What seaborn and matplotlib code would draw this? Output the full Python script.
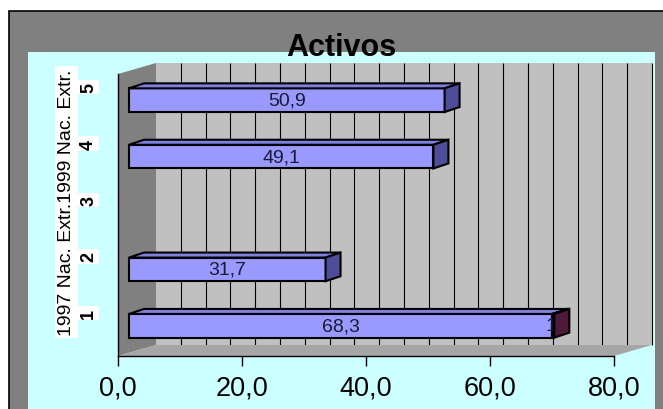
import numpy as np
import pandas as pd
import seaborn as sns
import matplotlib
matplotlib.use('Agg')
import matplotlib.pyplot as plt
from matplotlib.patches import Rectangle, Polygon
from matplotlib.transforms import ScaledTranslation

# datos
posiciones = [1, 2, 3, 4, 5]
etiquetas_y = ["1", "2", "3", "4", "5"]
valores = [68.3, 31.7, np.nan, 49.1, 50.9]
resto = [0.3, np.nan, np.nan, np.nan, np.nan]
ticks_x = [0, 20, 40, 60, 80]
etiquetas_x = ["0,0", "20,0", "40,0", "60,0", "80,0"]
titulo = "Activos"
eje_y = "1997 Nac. Extr.1999 Nac. Extr."

sns.set_theme(style="white")
plt.rcParams['font.family'] = ['Liberation Sans', 'DejaVu Sans']

W, H = 663, 410
fig = plt.figure(figsize=(W / 100, H / 100), dpi=100)
fig.patch.set_facecolor('white')


def fx(x):
    return x / W


def fy(y):
    return 1 - y / H


# marco gris y area cyan
fig.add_artist(Rectangle((fx(9), -0.1), 1, fy(12) + 0.1, transform=fig.transFigure,
                         facecolor='#808080', edgecolor='black', lw=1.2, zorder=-10))
fig.add_artist(Rectangle((fx(28), -0.1), fx(655) - fx(28), fy(53) + 0.1, transform=fig.transFigure,
                         facecolor='#CCFFFF', edgecolor='none', zorder=-9))

ax = fig.add_axes([fx(118), fy(357), fx(614) - fx(118), fy(75) - fy(357)])
ax.set_facecolor('none')

df = pd.DataFrame({'pos': posiciones, 'valor': valores}).dropna()
sns.barplot(data=df, x='valor', y='pos', orient='h', native_scale=True, width=0.42,
            color='#9999FF', saturation=1, edgecolor='black', linewidth=1.5,
            errorbar=None, ax=ax, zorder=2)
barras = list(ax.patches)

df2 = pd.DataFrame({'pos': posiciones, 'base': valores, 'resto': resto}).dropna()
seg = ax.barh(df2['pos'], df2['resto'], height=0.42, left=df2['base'], color='#993366',
              edgecolor='black', linewidth=1.5, zorder=2)

ax.set_xlim(0, 80)
ax.set_ylim(0.5, 5.5)
ax.set_xlabel('')

# pixeles por unidad
px_x = (614 - 118) / 80
px_y = (357 - 75) / 5
DX, DY = 38 / px_x, 11 / px_y
ddx, ddy = 15 / px_x, 5 / px_y
y0, y1 = 0.5, 5.5

# paredes 3D
ax.add_patch(Rectangle((DX, y0 + DY), 80, 5, facecolor='#C0C0C0', edgecolor='none',
                       zorder=0.1, clip_on=False))
ax.vlines(np.arange(4, 81, 4) + DX, y0 + DY, y1 + DY, colors='black', lw=0.8,
          zorder=0.2, clip_on=False)
ax.add_patch(Polygon([(0, y0), (DX, y0 + DY), (DX, y1 + DY), (0, y1)],
                     facecolor='#808080', edgecolor='none', zorder=0.3, clip_on=False))
ax.add_patch(Polygon([(0, y0), (80, y0), (80 + DX, y0 + DY), (DX, y0 + DY)],
                     facecolor='#A6A6A6', edgecolor='none', zorder=0.3, clip_on=False))

desplaza = ax.transData + ScaledTranslation(11 / 100, 2 / 100, fig.dpi_scale_trans)


def caras(p, c_top, c_side, z):
    bx0 = p.get_x()
    bx1 = bx0 + p.get_width()
    by0 = p.get_y()
    by1 = by0 + p.get_height()
    ax.add_patch(Polygon([(bx0, by1), (bx1, by1), (bx1 + ddx, by1 + ddy), (bx0 + ddx, by1 + ddy)],
                         facecolor=c_top, edgecolor='black', lw=1.5, transform=desplaza,
                         zorder=z, clip_on=False))
    ax.add_patch(Polygon([(bx1, by0), (bx1 + ddx, by0 + ddy), (bx1 + ddx, by1 + ddy), (bx1, by1)],
                         facecolor=c_side, edgecolor='black', lw=1.5, transform=desplaza,
                         zorder=z, clip_on=False))


for p, v in zip(barras, df['valor']):
    p.set_transform(desplaza)
    p.set_clip_on(False)
    caras(p, '#8080E0', '#4D4D99', 2)
    ax.text(p.get_x() + p.get_width() / 2, p.get_y() + p.get_height() / 2,
            f"{v:.1f}".replace('.', ','), ha='center', va='center', fontsize=14,
            color='#1A1A33', transform=desplaza, zorder=4)

for p in seg.patches:
    p.set_transform(desplaza)
    p.set_clip_on(False)
    p.set_zorder(3)
    ax.text(p.get_x() - 0.2, p.get_y() + p.get_height() / 2, "1",
            ha='center', va='center', fontsize=14, color='#1A1A33',
            transform=desplaza, zorder=3.5)
    caras(p, '#803060', '#4D1A3A', 3.6)

# ejes
ax.set_xticks(ticks_x)
ax.set_xticklabels(etiquetas_x, fontsize=19.5)
ax.set_yticks(posiciones)
ax.set_yticklabels(etiquetas_y, rotation=90, fontsize=13, fontweight='bold', va='center')
ax.tick_params(axis='x', direction='out', length=7, width=1, color='black', pad=6.5,
               bottom=True, labelcolor='black')
ax.tick_params(axis='y', length=0, pad=15, labelcolor='black')
for s in ['top', 'right']:
    ax.spines[s].set_visible(False)
for s in ['left', 'bottom']:
    ax.spines[s].set_color('black')
    ax.spines[s].set_linewidth(1)
    ax.spines[s].set_zorder(2.5)

for t in ax.yaxis.get_major_ticks():
    t.label1.set_bbox(dict(facecolor='white', edgecolor='none', pad=1.5))
    t.label1.set_transform(t.label1.get_transform() + ScaledTranslation(0, 0.15, fig.dpi_scale_trans))

ax.set_ylabel(eje_y, fontsize=14, va='center', ha='center', color='black',
              bbox=dict(facecolor='white', edgecolor='none', pad=2))
ax.yaxis.set_label_coords((66.5 - 118) / 496, (357 - 203) / 282)

fig.text(fx(341), fy(56), titulo, ha='center', va='baseline', fontsize=22,
         fontweight='bold', color='black')

fig.savefig('out.png', dpi=100)
